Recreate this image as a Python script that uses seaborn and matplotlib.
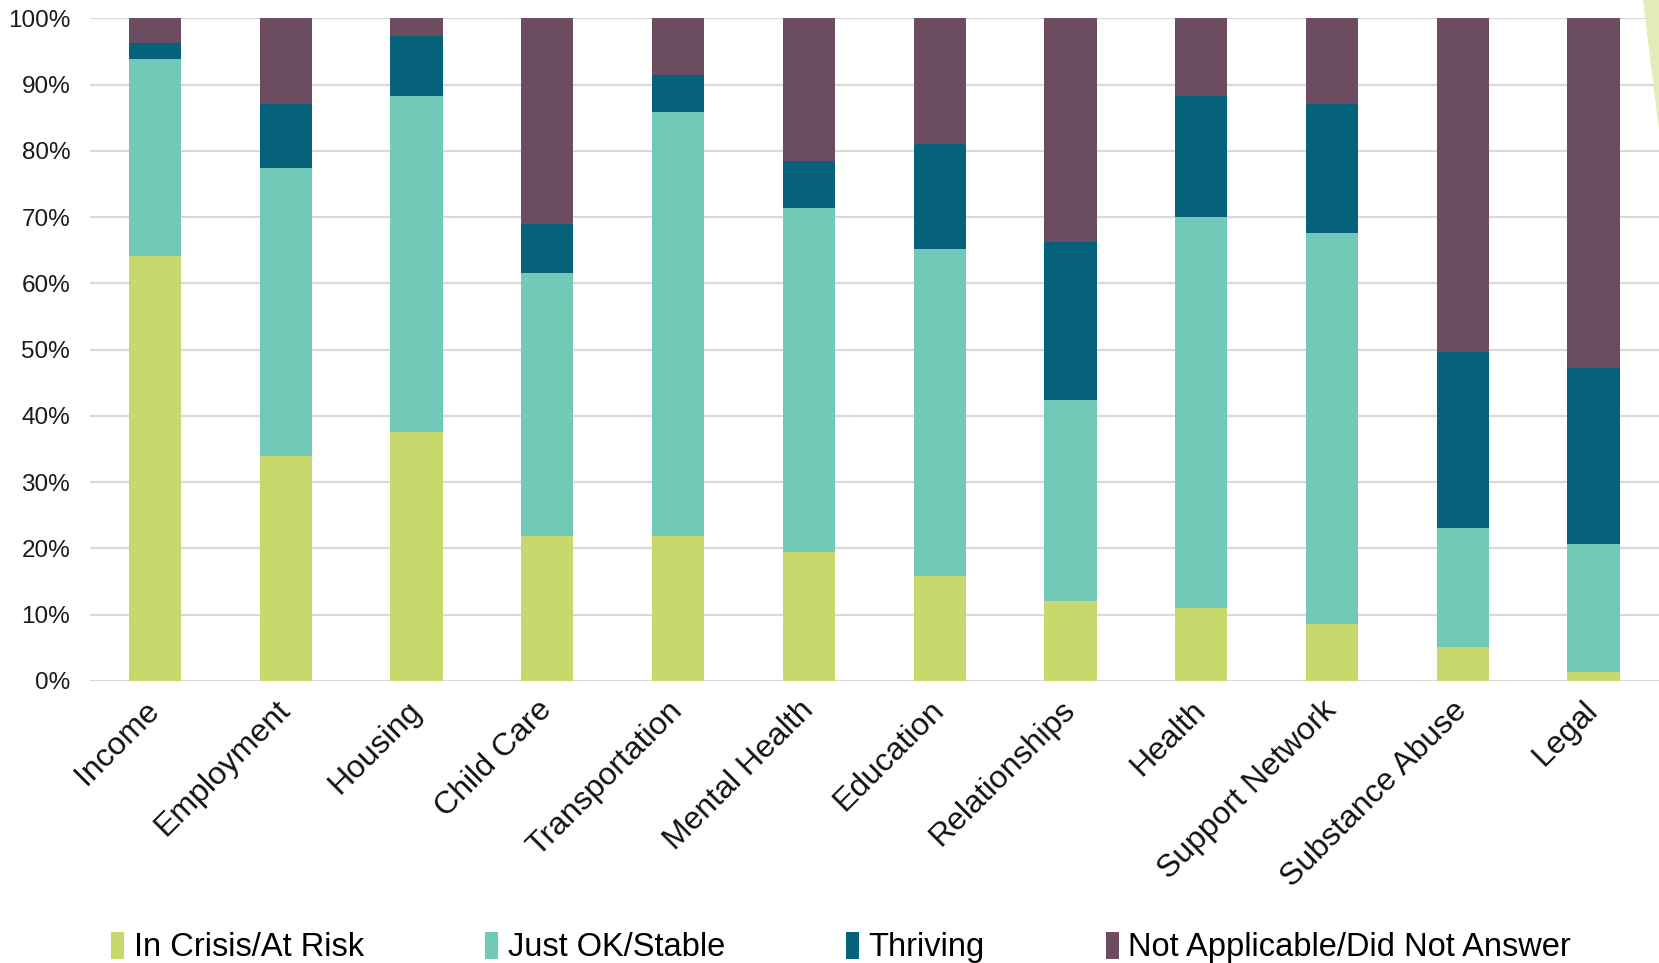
import numpy as np
import pandas as pd
import matplotlib.pyplot as plt
import seaborn as sns
from matplotlib.patches import Polygon, Patch
from matplotlib.ticker import PercentFormatter

# -----------------------------
# Data (percent of respondents per domain)
# -----------------------------
categories = ["Income", "Employment", "Housing", "Child Care", "Transportation",
              "Mental Health", "Education", "Relationships", "Health",
              "Support Network", "Substance Abuse", "Legal"]
in_crisis = [64.1, 34.0, 37.6, 21.9, 21.9, 19.5, 15.8, 12.1, 11.0, 8.6, 5.1, 1.3]
just_ok = [29.8, 43.4, 50.6, 39.7, 63.9, 51.8, 49.4, 30.3, 59.0, 59.0, 18.0, 19.3]
thriving = [2.4, 9.7, 9.2, 7.3, 5.7, 7.2, 15.8, 23.9, 18.2, 19.5, 26.5, 26.6]
not_applicable = [3.7, 12.9, 2.6, 31.1, 8.5, 21.5, 19.0, 33.7, 11.8, 12.9, 50.4, 52.8]

series_names = ["In Crisis/At Risk", "Just OK/Stable", "Thriving",
                "Not Applicable/Did Not Answer"]
colors = ["#c8d86c", "#72c9b8", "#05627a", "#6b4c60"]

# -----------------------------
# Stack layers: cumulative tops, drawn from the tallest down
# -----------------------------
df = pd.DataFrame({
    "category": categories,
    series_names[0]: in_crisis,
    series_names[1]: just_ok,
    series_names[2]: thriving,
    series_names[3]: not_applicable,
})
cum = df[series_names].cumsum(axis=1)

plt.rcParams["font.family"] = ["Liberation Sans", "DejaVu Sans"]

fig = plt.figure(figsize=(16.59, 9.63), dpi=100)
ax = fig.add_axes([0.054, 0.293, 0.946, 0.688])

for name, color in reversed(list(zip(series_names, colors))):
    sns.barplot(x=df["category"], y=cum[name], color=color, width=0.4,
                saturation=1, ax=ax, zorder=3)

ax.set_ylim(0, 100)
ax.set_xlim(-0.5, len(categories) - 0.5)
ax.set_yticks(np.arange(0, 101, 10))
ax.yaxis.set_major_formatter(PercentFormatter(decimals=0))
ax.grid(axis="y", color="#d9d9d9", linewidth=1.6, zorder=0)
ax.set_axisbelow(True)
for side in ["top", "right", "left", "bottom"]:
    ax.spines[side].set_visible(False)
ax.set_xlabel("")
ax.set_ylabel("")
ax.tick_params(axis="y", length=0, pad=14, labelsize=17.5, labelcolor="#1a1a1a")
ax.tick_params(axis="x", length=0, pad=18, labelsize=23, labelcolor="#111111")
plt.setp(ax.get_xticklabels(), rotation=45, ha="right", va="center",
         rotation_mode="anchor")

handles = [Patch(facecolor=c, edgecolor="none") for c in colors]
fig.legend(handles, series_names, loc="center", bbox_to_anchor=(0.507, 0.016),
           ncol=4, frameon=False, fontsize=23.5, handlelength=0.4,
           handleheight=0.9, handletextpad=0.3, columnspacing=3.7)

# light green corner decoration at the top right
fig.patches.append(Polygon([(1643 / 1659, 1.0), (1.0, 1.0), (1.0, 1 - 130 / 963)],
                           closed=True, transform=fig.transFigure,
                           facecolor="#e3ecb8", edgecolor="none"))

fig.savefig("out.png", dpi=100)
